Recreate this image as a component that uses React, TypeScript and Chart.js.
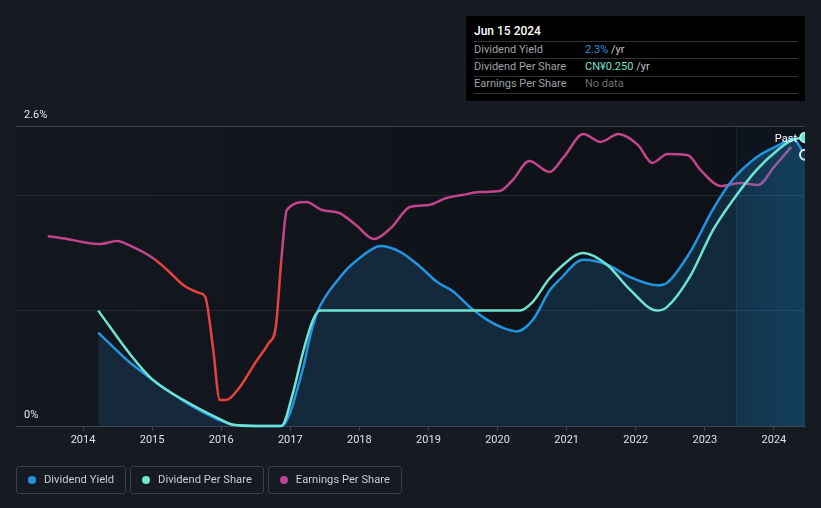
import React, { useEffect, useRef } from 'react';
import { Chart, registerables } from 'chart.js';

Chart.register(...registerables);

// ---------- data ----------
const xTickYears = [2014, 2015, 2016, 2017, 2018, 2019, 2020, 2021, 2022, 2023, 2024];
const yGridValues = [0, 1, 2, 2.6];
const yLabelValues = [0, 2.6];
const yLabelTexts = ['0%', '2.6%'];

const X_MIN = 2013.03;
const X_MAX = 2024.45;
const PAST_START = 2023.45;

const dyDates = [2014.22, 2014.64, 2015.01, 2015.5, 2015.98, 2016.17, 2016.5, 2016.87, 2017.18, 2017.28, 2017.4, 2017.53, 2017.68, 2017.82, 2017.97, 2018.15, 2018.3, 2018.59, 2018.88, 2019.12, 2019.35, 2019.6, 2019.85, 2020.08, 2020.28, 2020.51, 2020.76, 2020.9, 2021.24, 2021.58, 2021.92, 2022.31, 2022.45, 2022.78, 2023.12, 2023.41, 2023.75, 2024.09, 2024.27, 2024.45];
const dyValues = [0.81, 0.57, 0.40, 0.20, 0.05, 0.01, 0, 0, 0.49, 0.76, 1.0, 1.14, 1.26, 1.36, 1.44, 1.52, 1.56, 1.51, 1.38, 1.25, 1.17, 1.03, 0.92, 0.85, 0.82, 0.92, 1.18, 1.27, 1.44, 1.40, 1.29, 1.22, 1.24, 1.50, 1.88, 2.14, 2.33, 2.44, 2.49, 2.35];

const dpsDates = [2014.22, 2014.71, 2015.01, 2015.5, 2015.98, 2016.17, 2016.5, 2016.87, 2017.04, 2017.18, 2017.33, 2017.43, 2020.31, 2020.5, 2020.74, 2020.9, 2021.24, 2021.58, 2021.92, 2022.31, 2022.45, 2022.78, 2023.12, 2023.41, 2023.75, 2024.09, 2024.27, 2024.45];
const dpsValues = [0.100, 0.060, 0.040, 0.021, 0.006, 0.001, 0, 0, 0.029, 0.063, 0.092, 0.100, 0.100, 0.107, 0.127, 0.137, 0.150, 0.140, 0.118, 0.100, 0.103, 0.129, 0.170, 0.196, 0.222, 0.241, 0.248, 0.250];

const epsDates = [2013.49, 2013.77, 2014.0, 2014.25, 2014.49, 2014.72, 2015.01, 2015.22, 2015.45, 2015.69, 2015.77, 2015.88, 2015.98, 2016.07, 2016.26, 2016.5, 2016.69, 2016.79, 2016.87, 2016.95, 2017.23, 2017.46, 2017.71, 2017.95, 2018.21, 2018.47, 2018.73, 2019.01, 2019.26, 2019.49, 2019.74, 2020.03, 2020.22, 2020.46, 2020.75, 2020.96, 2021.24, 2021.49, 2021.75, 2022.03, 2022.24, 2022.46, 2022.75, 2022.94, 2023.23, 2023.52, 2023.77, 2024.0, 2024.25];
const epsValues = [0.823, 0.810, 0.797, 0.789, 0.802, 0.776, 0.728, 0.676, 0.611, 0.576, 0.559, 0.342, 0.113, 0.113, 0.165, 0.277, 0.360, 0.429, 0.719, 0.936, 0.971, 0.936, 0.923, 0.871, 0.810, 0.862, 0.949, 0.958, 0.988, 1.001, 1.014, 1.018, 1.066, 1.148, 1.101, 1.166, 1.265, 1.231, 1.265, 1.218, 1.140, 1.179, 1.174, 1.109, 1.040, 1.053, 1.044, 1.122, 1.209];
const EPS_THRESHOLD = 0.724;

// ---------- styles ----------
const BG = '#151a23';
const BLUE = '#2394df';
const TEAL = '#6fe3d1';
const PINK = '#c2448b';
const RED = '#e8413f';
const FONT = 'Roboto, "Open Sans", sans-serif';

const toPoints = (xs: number[], ys: number[]) => xs.map((x, i) => ({ x, y: ys[i] }));

const decorPlugin = {
  id: 'decor',
  beforeDraw(chart: any) {
    const { ctx, chartArea: a } = chart;
    if (!a) return;
    ctx.save();
    const g = ctx.createLinearGradient(a.left, 0, a.right, 0);
    g.addColorStop(0, 'rgb(19,23,31)');
    g.addColorStop(1, 'rgb(13,16,22)');
    ctx.fillStyle = g;
    ctx.fillRect(a.left, a.top, a.right - a.left, a.bottom - a.top);
    ctx.restore();
  },
  beforeDatasetsDraw(chart: any) {
    const { ctx, chartArea: a, scales } = chart;
    const px = scales.x.getPixelForValue(PAST_START);
    ctx.save();
    ctx.fillStyle = 'rgba(35,148,223,0.035)';
    ctx.fillRect(px, a.top, a.right - px, a.bottom - a.top);
    ctx.strokeStyle = 'rgba(35,148,223,0.14)';
    ctx.lineWidth = 1;
    ctx.beginPath();
    ctx.moveTo(Math.round(px) + 0.5, a.top);
    ctx.lineTo(Math.round(px) + 0.5, a.bottom);
    ctx.stroke();
    ctx.restore();
  },
  afterDatasetsDraw(chart: any) {
    const { ctx, chartArea: a, scales } = chart;
    ctx.save();
    ctx.font = `11px ${FONT}`;
    ctx.fillStyle = '#e6e8eb';
    ctx.textBaseline = 'middle';
    ctx.textAlign = 'left';
    yLabelValues.forEach((v, i) => {
      const y = scales.y.getPixelForValue(v);
      ctx.fillText(yLabelTexts[i], a.left + 8, y - 11);
    });
    ctx.fillStyle = '#ffffff';
    ctx.textAlign = 'right';
    ctx.fillText('Past', a.right - 8, scales.y.getPixelForValue(2.5) + 2);
    ctx.restore();
  },
};

export default function App() {
  const canvasRef = useRef<HTMLCanvasElement | null>(null);

  useEffect(() => {
    document.body.style.margin = '0';
    const canvas = canvasRef.current;
    if (!canvas) return;

    const fillGradient = (c: any) => {
      const chart = c.chart;
      const a = chart.chartArea;
      if (!a) return 'rgba(35,148,223,0.17)';
      const xs = chart.scales.x;
      const g = chart.ctx.createLinearGradient(a.left, 0, a.right, 0);
      const t = (v: number) => Math.min(1, Math.max(0, (xs.getPixelForValue(v) - a.left) / (a.right - a.left)));
      g.addColorStop(0, 'rgba(35,148,223,0.14)');
      g.addColorStop(t(PAST_START) - 0.001, 'rgba(35,148,223,0.19)');
      g.addColorStop(t(PAST_START), 'rgba(35,148,223,0.24)');
      g.addColorStop(1, 'rgba(35,148,223,0.33)');
      return g;
    };

    const epsColor = (c: any) => {
      const chart = c.chart;
      const a = chart.chartArea;
      if (!a) return PINK;
      const y = chart.scales.yEps.getPixelForValue(EPS_THRESHOLD);
      const t = Math.min(1, Math.max(0, (y - a.top) / (a.bottom - a.top)));
      const g = chart.ctx.createLinearGradient(0, a.top, 0, a.bottom);
      g.addColorStop(0, PINK);
      g.addColorStop(t, PINK);
      g.addColorStop(t, RED);
      g.addColorStop(1, RED);
      return g;
    };

    const lastOnly = (n: number, r: number) => (c: any) => (c.dataIndex === n - 1 ? r : 0);
    const edgeClip = { left: 3, top: 3, right: 0, bottom: 3 };

    const chart = new Chart(canvas, {
      type: 'line',
      data: {
        datasets: [
          {
            label: 'Dividend Per Share',
            data: toPoints(dpsDates, dpsValues),
            yAxisID: 'yDps',
            borderColor: TEAL,
            borderWidth: 2.5,
            cubicInterpolationMode: 'monotone',
            fill: false,
            clip: edgeClip,
            pointRadius: lastOnly(dpsDates.length, 5),
            pointBackgroundColor: TEAL,
            pointBorderColor: '#bff5ec',
            pointBorderWidth: 1.5,
          },
          {
            label: 'Dividend Yield',
            data: toPoints(dyDates, dyValues),
            yAxisID: 'y',
            borderColor: BLUE,
            borderWidth: 2.5,
            cubicInterpolationMode: 'monotone',
            fill: 'origin',
            clip: edgeClip,
            backgroundColor: fillGradient,
            pointRadius: lastOnly(dyDates.length, 5),
            pointBackgroundColor: '#163a58',
            pointBorderColor: '#d8eefc',
            pointBorderWidth: 2,
          },
          {
            label: 'Earnings Per Share',
            data: toPoints(epsDates, epsValues),
            yAxisID: 'yEps',
            borderColor: epsColor,
            borderWidth: 2.5,
            cubicInterpolationMode: 'monotone',
            fill: false,
            pointRadius: 0,
          },
        ],
      },
      options: {
        responsive: false,
        animation: false,
        events: [],
        layout: { padding: { left: 16, right: 16, top: 126, bottom: 62 } },
        plugins: { legend: { display: false }, tooltip: { enabled: false } },
        scales: {
          x: {
            type: 'linear',
            min: X_MIN,
            max: X_MAX,
            afterBuildTicks: (s: any) => {
              s.ticks = xTickYears.map((v) => ({ value: v }));
            },
            afterFit: (s: any) => {
              s.height = 20;
            },
            grid: { display: true, drawOnChartArea: false, drawTicks: true, tickLength: 5, color: '#3d424b' },
            border: { display: true, color: '#40454e', width: 1 },
            ticks: {
              color: '#dfe1e5',
              font: { family: FONT, size: 11 },
              padding: 3,
              maxRotation: 0,
              autoSkip: false,
              callback: (v: any) => String(Math.round(Number(v))),
            },
          },
          y: {
            type: 'linear',
            min: 0,
            max: 2.6,
            afterBuildTicks: (s: any) => {
              s.ticks = yGridValues.map((v) => ({ value: v }));
            },
            afterFit: (s: any) => {
              s.width = 0;
            },
            grid: {
              drawTicks: false,
              color: (c: any) => {
                const v = c.tick ? c.tick.value : 0;
                if (v === 0) return 'rgba(0,0,0,0)';
                if (v === 2.6) return '#3c414a';
                return '#242932';
              },
            },
            border: { display: false },
            ticks: { display: false },
          },
          yDps: { type: 'linear', display: false, min: 0, max: 0.26 },
          yEps: { type: 'linear', display: false, min: 0, max: 1.3 },
        },
      } as any,
      plugins: [decorPlugin as any],
    });

    return () => chart.destroy();
  }, []);

  const legendItems = [
    { label: 'Dividend Yield', color: BLUE },
    { label: 'Dividend Per Share', color: TEAL },
    { label: 'Earnings Per Share', color: PINK },
  ];

  const rowLabel: React.CSSProperties = { position: 'absolute', left: 8, fontSize: 11, lineHeight: '14px', color: '#9ea2a8', whiteSpace: 'nowrap' };
  const rowValue: React.CSSProperties = { position: 'absolute', left: 119, fontSize: 11, lineHeight: '14px', whiteSpace: 'nowrap' };
  const sep = (top: number): React.CSSProperties => ({ position: 'absolute', left: 8, width: 324, top, height: 1, background: '#2f3237' });

  return (
    <div style={{ position: 'relative', width: 821, height: 508, background: BG, fontFamily: FONT, overflow: 'hidden' }}>
      <canvas ref={canvasRef} width={821} height={508} style={{ position: 'absolute', left: 0, top: 0, width: 821, height: 508 }} />
      <div style={{ position: 'absolute', left: 466, top: 16, width: 339, height: 85, background: '#000000' }}>
        <div style={{ position: 'absolute', left: 8, top: 8, fontSize: 12, lineHeight: '14px', fontWeight: 500, color: '#ffffff' }}>Jun 15 2024</div>
        <div style={sep(25)} />
        <div style={{ ...rowLabel, top: 26.5 }}>Dividend Yield</div>
        <div style={{ ...rowValue, top: 26.5 }}>
          <span style={{ color: BLUE }}>2.3%</span>
          <span style={{ color: '#c4c6c9' }}> /yr</span>
        </div>
        <div style={sep(42)} />
        <div style={{ ...rowLabel, top: 43.5 }}>Dividend Per Share</div>
        <div style={{ ...rowValue, top: 43.5 }}>
          <span style={{ color: TEAL }}>CN¥0.250</span>
          <span style={{ color: '#c4c6c9' }}> /yr</span>
        </div>
        <div style={sep(60)} />
        <div style={{ ...rowLabel, top: 61 }}>Earnings Per Share</div>
        <div style={{ ...rowValue, top: 61, color: '#6c7076' }}>No data</div>
        <div style={sep(77)} />
      </div>
      <div style={{ position: 'absolute', left: 16, top: 466, display: 'flex', gap: 4 }}>
        {legendItems.map((it) => (
          <div
            key={it.label}
            style={{
              boxSizing: 'border-box',
              height: 28,
              border: '1px solid #3a3f48',
              borderRadius: 3,
              display: 'flex',
              alignItems: 'center',
              padding: '0 11px 0 11px',
              gap: 8,
            }}
          >
            <span style={{ width: 8, height: 8, borderRadius: 4, background: it.color, display: 'inline-block', flex: '0 0 auto' }} />
            <span style={{ fontSize: 11.2, color: '#c9ccd1', whiteSpace: 'nowrap', lineHeight: '14px' }}>{it.label}</span>
          </div>
        ))}
      </div>
    </div>
  );
}
